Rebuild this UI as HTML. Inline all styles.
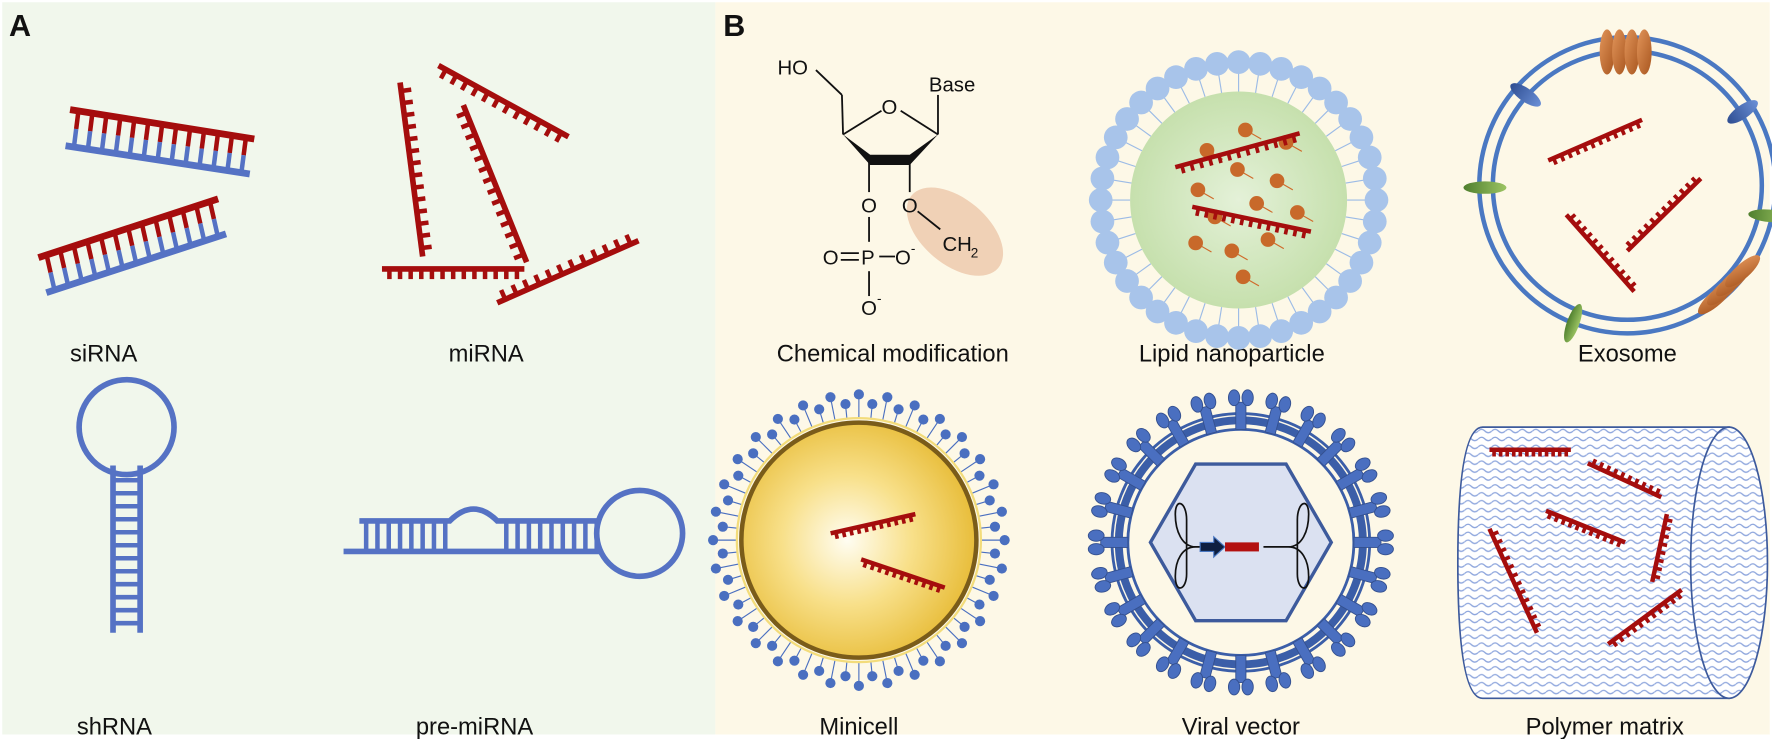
<!DOCTYPE html>
<html><head><meta charset="utf-8"><style>
html,body{margin:0;padding:0;background:#fff;}
svg{display:block;}
text{font-family:"Liberation Sans",Arial,sans-serif;fill:#111;}
</style></head><body>
<svg id="s" width="1772" height="739" viewBox="0 0 1568 654" preserveAspectRatio="none" xmlns="http://www.w3.org/2000/svg">
<defs>
<radialGradient id="gl" cx="50%" cy="50%" r="50%"><stop offset="0" stop-color="#e4f1d8"/><stop offset="1" stop-color="#c6e0ad"/></radialGradient>
<radialGradient id="gy" cx="45%" cy="50%" r="55%"><stop offset="0" stop-color="#fffdf2"/><stop offset="0.5" stop-color="#f8e08a"/><stop offset="1" stop-color="#e8bd3a"/></radialGradient>
<linearGradient id="go" x1="0" y1="0" x2="1" y2="1"><stop offset="0" stop-color="#e2955a"/><stop offset="1" stop-color="#a8561f"/></linearGradient>
<linearGradient id="gg" x1="0" y1="0" x2="1" y2="0"><stop offset="0" stop-color="#4f7f2e"/><stop offset="1" stop-color="#9cc463"/></linearGradient>
<linearGradient id="gb" x1="0" y1="0" x2="1" y2="0"><stop offset="0" stop-color="#2f4e92"/><stop offset="1" stop-color="#6a8fd6"/></linearGradient>
<pattern id="wave" width="12" height="7" patternUnits="userSpaceOnUse"><rect width="12" height="7" fill="#fff"/><path d="M0,3.5 Q3,0.5 6,3.5 T12,3.5" fill="none" stroke="#8ea6dd" stroke-width="1.1"/></pattern>
</defs>
<rect x="2" y="2" width="631" height="648" fill="#f1f7ec"/>
<rect x="633" y="2" width="933" height="648" fill="#fdf8e7"/>
<text x="8" y="32" font-size="27" font-weight="bold">A</text>
<text x="640" y="32" font-size="27" font-weight="bold">B</text>

<g font-size="21">
<text x="62" y="320">siRNA</text>
<text x="397" y="320">miRNA</text>
<text x="68" y="650">shRNA</text>
<text x="368" y="650">pre-miRNA</text>
<text x="790" y="320" text-anchor="middle">Chemical modification</text>
<text x="1090" y="320" text-anchor="middle">Lipid nanoparticle</text>
<text x="1440" y="320" text-anchor="middle">Exosome</text>
<text x="760" y="650" text-anchor="middle">Minicell</text>
<text x="1098" y="650" text-anchor="middle">Viral vector</text>
<text x="1420" y="650" text-anchor="middle">Polymer matrix</text>
</g>

<g fill="none" stroke="#5572c4" stroke-width="5">
<circle cx="112" cy="378" r="42"/>
<line x1="100" y1="412" x2="100" y2="560"/><line x1="124" y1="412" x2="124" y2="560"/>
<line x1="304" y1="488" x2="532" y2="488"/>
<path d="M318,461 H398 Q419,440 440,461 H530"/>
<circle cx="566" cy="472" r="38"/>
</g>
<g id="rungs" stroke="#5572c4" stroke-width="4"></g>

<ellipse cx="845" cy="205" rx="50" ry="29" transform="rotate(40 845 205)" fill="#f0d1b6"/>
<g stroke="#111" stroke-width="1.6" fill="none">
<line x1="722" y1="62" x2="745" y2="84"/><line x1="745" y1="84" x2="746" y2="119"/>
<line x1="746" y1="119" x2="780" y2="98"/><line x1="797" y1="98" x2="830" y2="119"/>
<line x1="830" y1="119" x2="830" y2="84"/>
<line x1="769" y1="142" x2="769" y2="170"/><line x1="805" y1="142" x2="805" y2="170"/>
<line x1="769" y1="192" x2="769" y2="214"/><line x1="769" y1="240" x2="769" y2="262"/>
<line x1="744" y1="224" x2="760" y2="224"/><line x1="744" y1="230" x2="760" y2="230"/>
<line x1="778" y1="227" x2="792" y2="227"/>
<line x1="812" y1="187" x2="832" y2="203"/>
</g>
<polygon points="746,119 770,137 805,137 830,119 805,146 770,146" fill="#111"/>
<g font-size="18">
<text x="688" y="66">HO</text><text x="780" y="101">O</text><text x="822" y="81">Base</text>
<text x="762" y="188">O</text><text x="798" y="188">O</text>
<text x="762" y="234">P</text><text x="728" y="234">O</text><text x="792" y="234">O</text><text x="806" y="224" font-size="12">-</text>
<text x="762" y="279">O</text><text x="776" y="268" font-size="12">-</text>
<text x="834" y="222">CH</text><text x="859" y="228" font-size="12">2</text>
</g>

<circle cx="1096" cy="177" r="96" fill="url(#gl)"/>
<g id="lnp"></g>

<g fill="none" stroke="#4a78c2" stroke-width="4">
<circle cx="1440" cy="164" r="131"/><circle cx="1440" cy="164" r="119"/>
</g>
<g id="exo"></g>

<g id="mini"></g>
<circle cx="760" cy="478" r="108" fill="none" stroke="#f3dc7a" stroke-width="2"/>
<circle cx="760" cy="478" r="104" fill="url(#gy)" stroke="#7a5c1a" stroke-width="4"/>
<g id="mini2"></g>

<g id="vir"></g>
<polygon id="hex" fill="#dbe1f1" stroke="#3d5a9c" stroke-width="3"/>
<path d="M1080,484 H1058 C1046,484 1040,470 1040,455 C1040,440 1050,444 1050,460 V508 C1050,522 1040,526 1040,510 C1040,496 1046,484 1058,484" fill="none" stroke="#111" stroke-width="1.5"/>
<path d="M1118,484 H1140 C1152,484 1158,470 1158,455 C1158,440 1148,444 1148,460 V508 C1148,522 1158,526 1158,510 C1158,496 1152,484 1140,484" fill="none" stroke="#111" stroke-width="1.5"/>
<polygon points="1062,480 1074,480 1074,475 1084,484 1074,493 1074,488 1062,488" fill="#0f1f40" stroke="#4a78c2"/>
<rect x="1084" y="480" width="30" height="8" fill="#b31010"/>

<path d="M1312,378 H1530 V618 H1312 Q1290,618 1290,498 Q1290,378 1312,378 Z" fill="url(#wave)" stroke="#3d5a9c" stroke-width="1.5"/>
<ellipse cx="1530" cy="498" rx="34" ry="120" fill="url(#wave)" stroke="#3d5a9c" stroke-width="1.5"/>
<g id="strands"></g>
</svg>
<script>
var NS="http://www.w3.org/2000/svg";
function el(p,t,a){var e=document.createElementNS(NS,t);for(var k in a)e.setAttribute(k,a[k]);document.getElementById(p).appendChild(e);return e;}
var RED="#a50d0d",BLUE="#5572c4";
function strand(p,x1,y1,x2,y2,n,s,len,w,c){
 c=c||RED;w=w||4;len=len||9;
 el(p,"line",{x1:x1,y1:y1,x2:x2,y2:y2,stroke:c,"stroke-width":w});
 var dx=x2-x1,dy=y2-y1,L=Math.hypot(dx,dy),nx=-dy/L*s,ny=dx/L*s;
 for(var i=0;i<n;i++){var t=(i+0.7)/(n+0.4);var x=x1+dx*t,y=y1+dy*t;
  el(p,"line",{x1:x,y1:y,x2:x+nx*len,y2:y+ny*len,stroke:c,"stroke-width":w*0.8});}
}
function duplex(ax1,ay1,ax2,ay2,bx1,by1,bx2,by2,n){
 for(var i=0;i<n;i++){var t=(i+0.6)/(n+0.2);
  var x1=ax1+(ax2-ax1)*t,y1=ay1+(ay2-ay1)*t,x2=bx1+(bx2-bx1)*t,y2=by1+(by2-by1)*t,mx=(x1+x2)/2,my=(y1+y2)/2;
  el("strands","line",{x1:x1,y1:y1,x2:mx,y2:my,stroke:RED,"stroke-width":4});
  el("strands","line",{x1:mx,y1:my,x2:x2,y2:y2,stroke:BLUE,"stroke-width":4});}
 el("strands","line",{x1:ax1,y1:ay1,x2:ax2,y2:ay2,stroke:RED,"stroke-width":6});
 el("strands","line",{x1:bx1,y1:by1,x2:bx2,y2:by2,stroke:BLUE,"stroke-width":6});
}
duplex(62,97,225,123,58,129,221,154,13);
duplex(34,228,193,176,41,259,200,207,13);
strand("strands",354,73,374,227,14,-1,9,5);
strand("strands",388,58,503,121,12,1,9,5);
strand("strands",410,93,466,232,14,1,9,5);
strand("strands",338,238,464,238,13,1,9,5);
strand("strands",440,268,565,213,12,-1,9,5);
for(var y=425;y<560;y+=11.5)el("rungs","line",{x1:100,y1:y,x2:124,y2:y});
for(var x=324;x<398;x+=10)el("rungs","line",{x1:x,y1:461,x2:x,y2:488});
for(var x=448;x<530;x+=10)el("rungs","line",{x1:x,y1:461,x2:x,y2:488});
var cx=1096,cy=177,i,a;
for(i=0;i<40;i++){a=i/40*2*Math.PI;el("lnp","line",{x1:cx+96*Math.cos(a),y1:cy+96*Math.sin(a),x2:cx+114*Math.cos(a),y2:cy+114*Math.sin(a),stroke:"#9cbbe6","stroke-width":1});}
for(i=0;i<40;i++){a=i/40*2*Math.PI;el("lnp","circle",{cx:cx+122*Math.cos(a),cy:cy+122*Math.sin(a),r:10.5,fill:"#a8c4ea"});}
var dots=[[1068,133],[1102,115],[1138,126],[1060,168],[1095,150],[1130,160],[1075,192],[1112,180],[1148,188],[1058,215],[1090,222],[1122,212],[1100,245]];
dots.forEach(function(d){el("lnp","line",{x1:d[0],y1:d[1],x2:d[0]+14,y2:d[1]+8,stroke:"#d06a2a","stroke-width":1});el("lnp","circle",{cx:d[0],cy:d[1],r:6.5,fill:"#c8692a"});});
strand("lnp",1040,148,1150,118,13,1,7,4);
strand("lnp",1055,183,1160,205,13,1,7,4);
function ell(p,x,y,rx,ry,rot,f){el(p,"ellipse",{cx:x,cy:y,rx:rx,ry:ry,fill:f,transform:"rotate("+rot+" "+x+" "+y+")"});}
for(i=0;i<4;i++)ell("exo",1422+i*11,46,6.5,20,0,"url(#go)");
for(i=0;i<4;i++)ell("exo",1518+i*8,264-i*8,6.5,20,48,"url(#go)");
ell("exo",1350,84,16,6,35,"url(#gb)");ell("exo",1542,99,16,6,-35,"url(#gb)");
ell("exo",1314,166,19,5.5,0,"url(#gg)");ell("exo",1566,191,19,5.5,5,"url(#gg)");
ell("exo",1392,286,5.5,18,20,"url(#gg)");
strand("exo",1370,142,1453,106,12,1,6,4);
strand("exo",1386,190,1446,258,12,-1,6,4);
strand("exo",1440,222,1505,158,12,-1,6,4);
cx=760;cy=478;
for(i=0;i<64;i++){a=i/64*2*Math.PI;var r=(i%2)?121:129;
 el("mini","line",{x1:cx+108*Math.cos(a),y1:cy+108*Math.sin(a),x2:cx+r*Math.cos(a),y2:cy+r*Math.sin(a),stroke:"#4a6fc0","stroke-width":1});
 el("mini","circle",{cx:cx+r*Math.cos(a),cy:cy+r*Math.sin(a),r:4.5,fill:"#4a6fc0"});}
strand("mini2",735,472,810,455,11,1,6,4);
strand("mini2",762,495,836,520,11,1,6,4);
cx=1098;cy=480;
el("vir","circle",{cx:cx,cy:cy,r:108,fill:"none",stroke:"#3b5ea8","stroke-width":7});
el("vir","circle",{cx:cx,cy:cy,r:114,fill:"none",stroke:"#3b5ea8","stroke-width":2.5});
el("vir","circle",{cx:cx,cy:cy,r:100,fill:"none",stroke:"#3b5ea8","stroke-width":2.5});
for(i=0;i<24;i++){a=i/24*360;var g=document.createElementNS(NS,"g");g.setAttribute("transform","translate("+cx+" "+cy+") rotate("+a+")");document.getElementById("vir").appendChild(g);
 g.innerHTML='<rect x="100" y="-4.5" width="24" height="9" fill="#4a6fc0" stroke="#34508f" stroke-width="0.8"/><ellipse cx="128" cy="-6" rx="7" ry="5" fill="#4a6fc0" stroke="#34508f" stroke-width="0.8"/><ellipse cx="128" cy="6" rx="7" ry="5" fill="#4a6fc0" stroke="#34508f" stroke-width="0.8"/>';}
var hp=[];for(i=0;i<6;i++){a=i*Math.PI/3;hp.push((cx+80*Math.cos(a)).toFixed(1)+","+(cy+80*Math.sin(a)).toFixed(1));}
document.getElementById("hex").setAttribute("points",hp.join(" "));
strand("strands",1318,398,1390,398,12,1,6,4);
strand("strands",1405,410,1470,440,10,-1,6,4);
strand("strands",1368,452,1438,480,11,1,6,4);
strand("strands",1475,455,1462,515,8,-1,6,4);
strand("strands",1318,468,1360,560,12,-1,6,4);
strand("strands",1423,570,1488,522,11,1,6,4);
</script>
</body></html>
